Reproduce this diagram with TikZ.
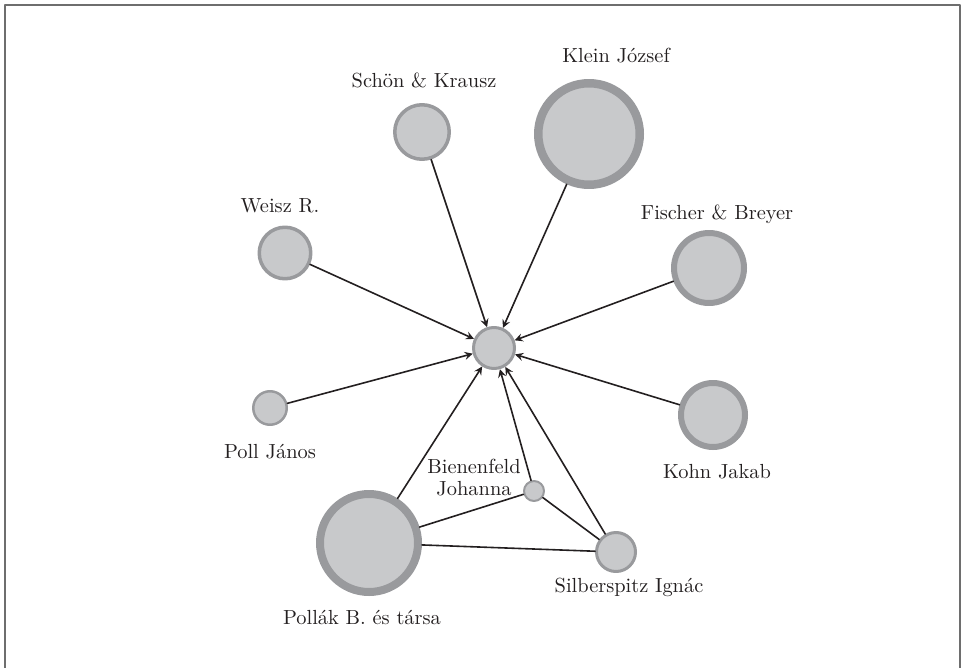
\documentclass[tikz,border=0pt]{standalone}
\usetikzlibrary{arrows}
\definecolor{discgray}{HTML}{C8C9CB}
\definecolor{ringgray}{HTML}{999A9D}
\definecolor{framegray}{HTML}{6E6E6E}
\definecolor{inkgray}{HTML}{231F20}
\tikzset{
  firm/.style 2 args={circle, draw=ringgray, fill=discgray, inner sep=0pt, minimum size=#1, line width=#2},
  firmname/.style={font=\fontsize{10.2}{11}\selectfont, text=inkgray, inner sep=0pt, anchor=base},
  tie/.style={line width=0.8pt, draw=inkgray}
}
\begin{document}
\begin{tikzpicture}[x=0.5pt, y=-0.5pt, >=stealth, line join=round, line cap=round]
\useasboundingbox (0,0) rectangle (962,668);
% keret
\draw[framegray, line width=1pt] (5,668) -- (5,5) -- (960,5) -- (960,668);
% cegek
\node[firm={20.5pt}{1.5pt}] (hub) at (494,348) {};
\node[firm={27.25pt}{1.75pt}] (schoen) at (422,132) {};
\node[firm={50.75pt}{4.25pt}] (klein) at (589,134) {};
\node[firm={25.75pt}{1.75pt}] (weisz) at (285,253) {};
\node[firm={35pt}{3pt}] (fischer) at (709,268) {};
\node[firm={16.75pt}{1.25pt}] (poll) at (270,408) {};
\node[firm={32pt}{3pt}] (kohn) at (713,415) {};
\node[firm={10pt}{1pt}] (bienen) at (534,491) {};
\node[firm={49pt}{4pt}] (pollak) at (369,543) {};
\node[firm={19.5pt}{1.5pt}] (silber) at (616,552) {};
% nevek
\node[firmname] (schoenname) at (424,88) {Schön \& Krausz};
\node[firmname] (kleinname) at (616,63) {Klein József};
\node[firmname] (weiszname) at (280,213) {Weisz R.};
\node[firmname] (fischername) at (717,220) {Fischer \& Breyer};
\node[firmname] (pollname) at (270,458) {Poll János};
\node[firmname] (kohnname) at (717,478) {Kohn Jakab};
\node[firmname, anchor=center, align=center] (bienenname) at (474,478) {Bienenfeld\\Johanna};
\node[firmname] (pollakname) at (362,624) {Pollák B. és társa};
\node[firmname] (silbername) at (629,592) {Silberspitz Ignác};
% kapcsolatok
\foreach \f in {schoen,klein,weisz,fischer,poll,kohn,pollak,bienen,silber}
  \draw[tie,->] (\f) -- (hub);
\draw[tie] (pollak) -- (bienen) (pollak) -- (silber) (bienen) -- (silber);
\end{tikzpicture}
\end{document}
